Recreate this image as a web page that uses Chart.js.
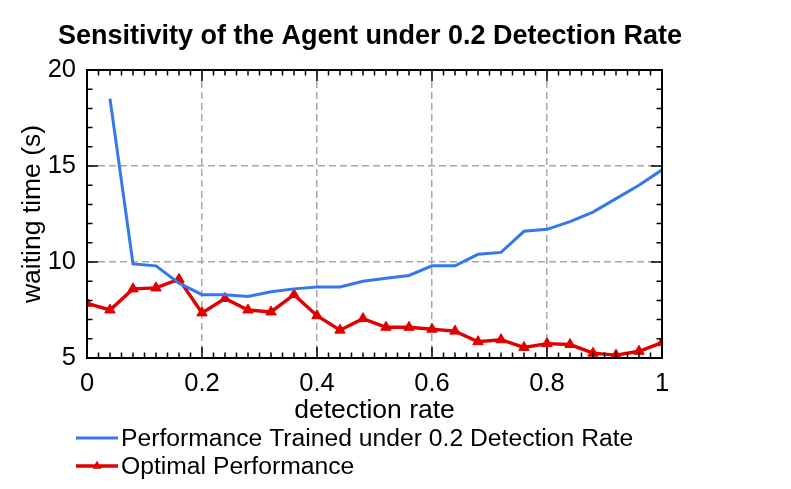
<!DOCTYPE html>
<html lang="en">
<head>
  <meta charset="UTF-8">
  <title>Sensitivity of the Agent under 0.2 Detection Rate</title>
  <style>
    body { margin: 0; padding: 0; background: #fff; }
    #chart { display: block; }
  </style>
</head>
<body>
  <canvas id="chart" width="791" height="489"></canvas>

  <script src="https://cdn.jsdelivr.net/npm/chart.js"></script>
  <script>
    // values
    const detectionRates = [0, 0.04, 0.08, 0.12, 0.16, 0.2, 0.24, 0.28, 0.32, 0.36, 0.4, 0.44, 0.48,
                            0.52, 0.56, 0.6, 0.64, 0.68, 0.72, 0.76, 0.8, 0.84, 0.88, 0.92, 0.96, 1];
    const trainedAt02 = [null, 18.5, 9.9, 9.8, 8.9, 8.3, 8.3, 8.2, 8.45, 8.6, 8.7, 8.7, 9.0,
                         9.15, 9.3, 9.8, 9.8, 10.4, 10.5, 11.6, 11.7, 12.1, 12.6, 13.3, 14.0, 14.8];
    const optimal = [7.85, 7.5, 8.6, 8.65, 9.1, 7.35, 8.1, 7.5, 7.4, 8.3, 7.2, 6.45, 7.05,
                     6.6, 6.6, 6.5, 6.4, 5.85, 5.95, 5.55, 5.75, 5.7, 5.25, 5.15, 5.35, 5.8];
    const xTicks = [0, 0.2, 0.4, 0.6, 0.8, 1];
    const yTicks = [5, 10, 15, 20];

    const FONT = "'Liberation Sans', Arial, Helvetica, sans-serif";
    const BLUE = '#3478ec';
    const RED = '#e00000';

    const toPoints = vals => detectionRates.map((x, i) => ({x: x, y: vals[i]}));

    // axes box, inward ticks, titles and the stacked legend
    const framePlugin = {
      id: 'frame',
      afterDraw(chart) {
        const ctx = chart.ctx;
        const a = chart.chartArea;
        const xs = chart.scales.x, ys = chart.scales.y;
        ctx.save();

        // ticks (minor every 0.02 / 1, major at labels)
        ctx.strokeStyle = '#000';
        ctx.lineWidth = 1.5;
        ctx.beginPath();
        for (let k = 1; k < 50; k++) {
          const px = xs.getPixelForValue(k / 50);
          const len = (k % 10 === 0) ? 11 : 5.5;
          ctx.moveTo(px, a.bottom); ctx.lineTo(px, a.bottom - len);
          ctx.moveTo(px, a.top); ctx.lineTo(px, a.top + len);
        }
        for (let v = 6; v < 20; v++) {
          const py = ys.getPixelForValue(v);
          const len = (v % 5 === 0) ? 11 : 5.5;
          ctx.moveTo(a.left, py); ctx.lineTo(a.left + len, py);
          ctx.moveTo(a.right, py); ctx.lineTo(a.right - len, py);
        }
        ctx.stroke();

        // box
        ctx.lineWidth = 2;
        ctx.strokeRect(a.left, a.top, a.right - a.left, a.bottom - a.top);

        // title
        ctx.fillStyle = '#000';
        ctx.textAlign = 'center';
        ctx.textBaseline = 'middle';
        ctx.font = 'bold 27px ' + FONT;
        ctx.fillText('Sensitivity of the Agent under 0.2 Detection Rate', 370, 37);

        // axis titles
        ctx.font = '26.5px ' + FONT;
        ctx.fillText('detection rate', (a.left + a.right) / 2, 411);
        ctx.save();
        ctx.translate(33, (a.top + a.bottom) / 2);
        ctx.rotate(-Math.PI / 2);
        ctx.fillText('waiting time (s)', 0, 0);
        ctx.restore();

        // legend
        ctx.font = '24.7px ' + FONT;
        ctx.textAlign = 'left';
        const rows = [
          {ds: chart.data.datasets[0], y: 438},
          {ds: chart.data.datasets[1], y: 466}
        ];
        rows.forEach(r => {
          ctx.strokeStyle = r.ds.borderColor;
          ctx.lineWidth = r.ds.borderWidth;
          ctx.beginPath();
          ctx.moveTo(76, r.y); ctx.lineTo(118, r.y);
          ctx.stroke();
          if (r.ds.pointRadius > 0) {
            ctx.fillStyle = r.ds.pointBackgroundColor;
            Chart.helpers.drawPoint(ctx, {pointStyle: 'triangle', radius: 5, borderWidth: 0}, 97, r.y);
            ctx.fill();
          }
          ctx.fillStyle = '#000';
          ctx.fillText(r.ds.label, 121, r.y + 1);
        });
        ctx.restore();
      }
    };

    const hideEdges = c => (c.tick && (c.tick.value === c.scale.min || c.tick.value === c.scale.max))
      ? 'rgba(0,0,0,0)' : '#a8a8a8';

    new Chart(document.getElementById('chart').getContext('2d'), {
      type: 'line',
      data: {
        datasets: [
          {
            label: 'Performance Trained under 0.2 Detection Rate',
            data: toPoints(trainedAt02),
            borderColor: BLUE,
            backgroundColor: BLUE,
            borderWidth: 3,
            pointRadius: 0,
            tension: 0,
            spanGaps: false
          },
          {
            label: 'Optimal Performance',
            data: toPoints(optimal),
            borderColor: RED,
            backgroundColor: RED,
            pointBackgroundColor: RED,
            pointBorderColor: RED,
            borderWidth: 3.4,
            pointStyle: 'triangle',
            pointRadius: 6,
            pointBorderWidth: 1,
            tension: 0
          }
        ]
      },
      options: {
        responsive: false,
        animation: false,
        devicePixelRatio: 1,
        layout: { padding: { left: 0, top: 70, right: 129, bottom: 0 } },
        plugins: {
          legend: { display: false },
          title: { display: false },
          tooltip: { enabled: false }
        },
        scales: {
          x: {
            type: 'linear',
            min: 0, max: 1,
            afterBuildTicks: s => { s.ticks = xTicks.map(v => ({value: v})); },
            afterFit: s => { s.height = 131; },
            grid: { color: hideEdges, lineWidth: 1.5, drawTicks: false },
            border: { display: false, dash: [7, 4] },
            ticks: {
              color: '#000',
              padding: 11,
              maxRotation: 0,
              font: { family: FONT, size: 25.5 },
              callback: v => String(Math.round(v * 10) / 10)
            }
          },
          y: {
            min: 5, max: 20,
            afterBuildTicks: s => { s.ticks = yTicks.map(v => ({value: v})); },
            afterFit: s => { s.width = 87; },
            grid: { color: hideEdges, lineWidth: 1.5, drawTicks: false },
            border: { display: false, dash: [7, 4] },
            ticks: {
              color: '#000',
              padding: 11,
              font: { family: FONT, size: 25.5 }
            }
          }
        }
      },
      plugins: [framePlugin]
    });
  </script>
</body>
</html>
